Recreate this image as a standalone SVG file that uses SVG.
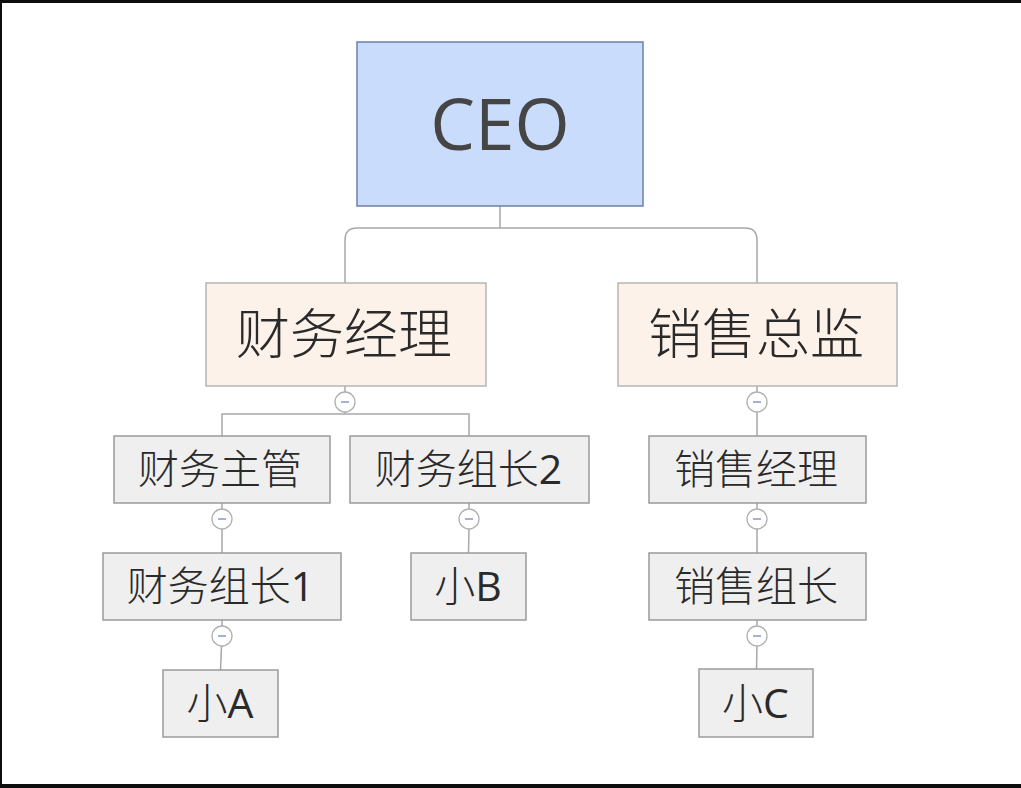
<svg xmlns="http://www.w3.org/2000/svg" width="1021" height="788" viewBox="0 0 1021 788">
<style>
.frame{fill:#0d0d0d}
.ceo{fill:#c9dcfc;stroke:#6e80ab;stroke-width:1.5}
.mgr{fill:#fdf2ea;stroke:#b5b5b5;stroke-width:1.5}
.sub{fill:#efefef;stroke:#9a9a9a;stroke-width:1.5}
.t{font-family:"Open Sans","Noto Sans CJK SC",sans-serif;fill:#2a2a2a;text-anchor:middle}
.big{font-size:54px;font-weight:300}
.mid{font-size:41px;font-weight:300}
.lat{font-weight:400}
.ceot{font-size:71px;fill:#454545}
.conn{fill:none;stroke:#a8a8a8;stroke-width:1.5}
.knob circle{fill:#fff;stroke:#b0b0b0;stroke-width:1.3}
.knob path{stroke:#aab0d0;stroke-width:2}
</style>
<rect x="0" y="0" width="1021" height="788" fill="#fff"/>
<rect class="frame" x="0" y="0" width="1021" height="3"/>
<rect class="frame" x="0" y="0" width="2" height="788"/>
<rect class="frame" x="0" y="784" width="1021" height="4"/>

<g id="connectors">
<path class="conn" d="M500 206 V228 M345 283 V240 Q345 228 357 228 H745 Q757 228 757 240 V283"/>
<path class="conn" d="M345 386 V392 M345 412 V414 M222 436 V414 H469 V436"/>
<path class="conn" d="M222 503 V509 M222 529 V553 M222 620 V626 M221.5 646 L220.5 670"/>
<path class="conn" d="M469 503 V509 M469 529 L468.5 553"/>
<path class="conn" d="M757 386 V392 M757 412 V436 M757 503 V509 M757 529 V553 M757 620 V626 M757 646 L756.5 669"/>
<g class="knob">
<circle cx="345" cy="402" r="10"/><path d="M341 402 H349"/>
<circle cx="222" cy="519" r="10"/><path d="M218 519 H226"/>
<circle cx="222" cy="636" r="10"/><path d="M218 636 H226"/>
<circle cx="469" cy="519" r="10"/><path d="M465 519 H473"/>
<circle cx="757" cy="402" r="10"/><path d="M753 402 H761"/>
<circle cx="757" cy="519" r="10"/><path d="M753 519 H761"/>
<circle cx="757" cy="636" r="10"/><path d="M753 636 H761"/>
</g>
</g>

<g id="ceo">
<rect class="ceo" x="357" y="42" width="286" height="164"/>
<text class="t ceot" x="500" y="150">CEO</text>
</g>
<g id="finance-manager">
<rect class="mgr" x="206" y="283" width="280" height="103"/>
<text class="t big" x="344" y="354">财务经理</text>
</g>
<g id="sales-director">
<rect class="mgr" x="618" y="283" width="279" height="103"/>
<text class="t big" x="756" y="354">销售总监</text>
</g>
<g id="finance-supervisor">
<rect class="sub" x="114" y="436" width="216" height="67"/>
<text class="t mid" x="220" y="484">财务主管</text>
</g>
<g id="finance-lead2">
<rect class="sub" x="350" y="436" width="239" height="67"/>
<text class="t mid" x="468.5" y="484">财务组长<tspan class="lat">2</tspan></text>
</g>
<g id="sales-manager">
<rect class="sub" x="649" y="436" width="217" height="67"/>
<text class="t mid" x="756" y="484">销售经理</text>
</g>
<g id="finance-lead1">
<rect class="sub" x="103" y="553" width="238" height="67"/>
<text class="t mid" x="220.5" y="601">财务组长<tspan class="lat">1</tspan></text>
</g>
<g id="xiao-b">
<rect class="sub" x="411" y="553" width="115" height="67"/>
<text class="t mid" x="468" y="601">小<tspan class="lat">B</tspan></text>
</g>
<g id="sales-lead">
<rect class="sub" x="649" y="553" width="217" height="67"/>
<text class="t mid" x="756" y="601">销售组长</text>
</g>
<g id="xiao-a">
<rect class="sub" x="163" y="670" width="115" height="67"/>
<text class="t mid" x="220" y="718">小<tspan class="lat">A</tspan></text>
</g>
<g id="xiao-c">
<rect class="sub" x="699" y="669" width="114" height="68"/>
<text class="t mid" x="755.5" y="718">小<tspan class="lat">C</tspan></text>
</g>
</svg>
